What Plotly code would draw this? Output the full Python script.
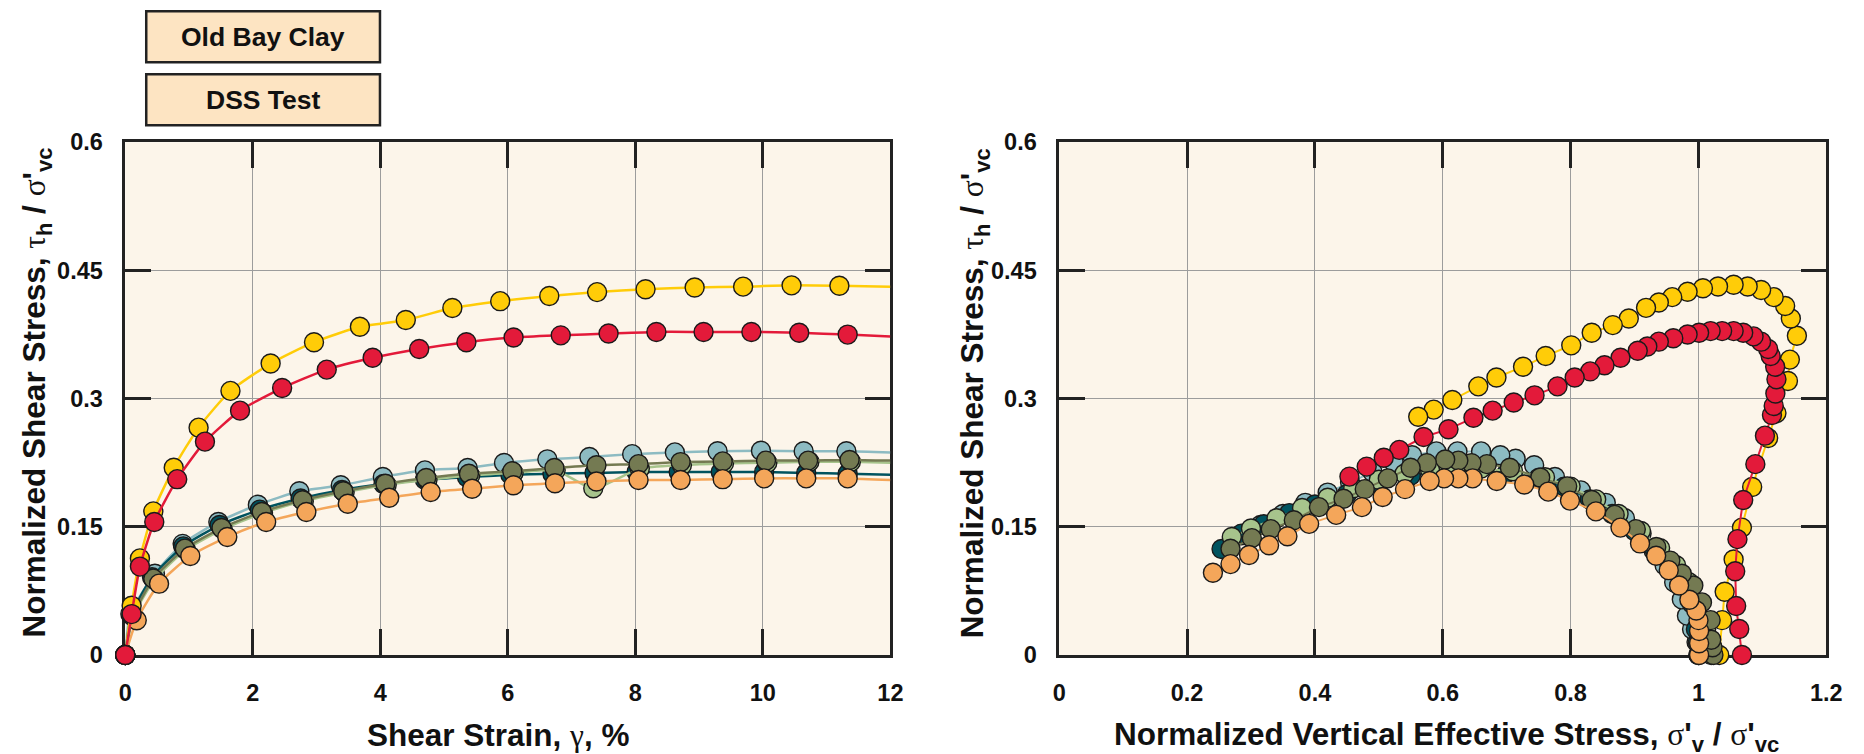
import plotly.graph_objects as go

# Target picture size
W, H = 1864, 754
# Figure size (slightly larger; calibrated mapping from figure pixels to the photographed picture)
FW, FH = 1880, 775
SX, AX = 0.9889, 3.6
SY, AY = 0.967, 10.7

def px(x):
    return ((x - AX) / SX) / FW

def py(y):
    return 1 - ((y - AY) / SY) / FH

# ---------------- Left panel: stress-strain (strain %, tau/sigma'vc) ----------------
yellow_strain = [0, 0.10, 0.23, 0.44, 0.76, 1.15, 1.65, 2.28, 2.96, 3.68, 4.40, 5.13, 5.88, 6.65, 7.40, 8.16, 8.93, 9.69, 10.45, 11.20]
yellow_stress = [0, 0.0575, 0.113, 0.168, 0.219, 0.266, 0.309, 0.341, 0.366, 0.384, 0.392, 0.406, 0.414, 0.420, 0.4246, 0.428, 0.430, 0.431, 0.4325, 0.432]
yellow_end = (12.0, 0.431)

red_strain = [0, 0.10, 0.23, 0.455, 0.815, 1.25, 1.80, 2.46, 3.16, 3.88, 4.61, 5.35, 6.09, 6.83, 7.58, 8.33, 9.07, 9.82, 10.57, 11.33]
red_stress = [0, 0.0478, 0.1034, 0.1555, 0.2057, 0.2496, 0.2859, 0.3123, 0.3339, 0.3477, 0.3581, 0.366, 0.3715, 0.374, 0.3761, 0.378, 0.378, 0.378, 0.377, 0.3749]
red_end = (12.0, 0.3728)

lblue_strain = [0, 0.08, 0.465, 0.90, 1.46, 2.08, 2.73, 3.38, 4.04, 4.70, 5.37, 5.94, 6.62, 7.28, 7.95, 8.62, 9.29, 9.97, 10.64, 11.31]
lblue_stress = [0, 0.048, 0.095, 0.130, 0.1556, 0.1758, 0.1915, 0.1985, 0.2082, 0.216, 0.2187, 0.2246, 0.2289, 0.2316, 0.235, 0.237, 0.2383, 0.239, 0.2383, 0.2383]
lblue_end = (12.0, 0.237)

teal_strain = [0, 0.10, 0.42, 0.91, 1.48, 2.11, 2.75, 3.40, 4.05, 4.70, 5.36, 6.04, 6.70, 7.36, 8.02, 8.68, 9.34, 10.02, 10.68, 11.33]
teal_stress = [0, 0.047, 0.091, 0.127, 0.152, 0.170, 0.183, 0.193, 0.200, 0.205, 0.208, 0.211, 0.212, 0.213, 0.214, 0.214, 0.214, 0.214, 0.213, 0.212]
teal_end = (12.0, 0.211)

lgreen_strain = [0, 0.13, 0.46, 0.95, 1.53, 2.16, 2.80, 3.44, 4.10, 4.74, 5.41, 6.09, 6.75, 7.34, 8.07, 8.73, 9.39, 10.07, 10.73, 11.38]
lgreen_stress = [0, 0.046, 0.088, 0.123, 0.147, 0.166, 0.180, 0.190, 0.199, 0.205, 0.210, 0.213, 0.216, 0.195, 0.218, 0.222, 0.224, 0.225, 0.226, 0.226]
lgreen_end = (12.0, 0.225)

olive_strain = [0, 0.12, 0.44, 0.935, 1.51, 2.14, 2.78, 3.42, 4.08, 4.72, 5.39, 6.07, 6.73, 7.39, 8.05, 8.71, 9.37, 10.05, 10.71, 11.36]
olive_stress = [0, 0.045, 0.0893, 0.1244, 0.1485, 0.1673, 0.181, 0.1915, 0.2004, 0.207, 0.212, 0.2149, 0.2187, 0.2219, 0.2233, 0.2257, 0.2265, 0.2274, 0.2274, 0.2282]
olive_end = (12.0, 0.2274)

orange_strain = [0, 0.18, 0.53, 1.02, 1.60, 2.21, 2.84, 3.49, 4.14, 4.79, 5.44, 6.09, 6.74, 7.39, 8.05, 8.71, 9.37, 10.02, 10.68, 11.33]
orange_stress = [0, 0.0406, 0.0834, 0.1158, 0.138, 0.1556, 0.1673, 0.177, 0.184, 0.1906, 0.1945, 0.1985, 0.201, 0.203, 0.2048, 0.2048, 0.2057, 0.2066, 0.2066, 0.2066]
orange_end = (12.0, 0.2048)

# ---------------- Right panel: stress paths (sigma'v/sigma'vc, tau/sigma'vc) ----------------
yellow_sv = [1.0325, 1.037, 1.041, 1.055, 1.068, 1.084, 1.109, 1.122, 1.140, 1.143, 1.154, 1.1445, 1.1356, 1.1177, 1.098, 1.077, 1.055, 1.0306, 1.007, 0.983, 0.959, 0.938, 0.918, 0.891, 0.866, 0.833, 0.801, 0.761, 0.7256, 0.684, 0.6556, 0.615, 0.5858, 0.5616]
yellow_tau = [0, 0.0407, 0.074, 0.1117, 0.149, 0.1965, 0.2538, 0.283, 0.3206, 0.3456, 0.3736, 0.3937, 0.4083, 0.4187, 0.427, 0.4312, 0.4333, 0.4312, 0.4292, 0.425, 0.4187, 0.4124, 0.4062, 0.3937, 0.386, 0.377, 0.3623, 0.3498, 0.3373, 0.3247, 0.3143, 0.2984, 0.2871, 0.2788]

red_sv = [1.068, 1.0638, 1.059, 1.0575, 1.061, 1.070, 1.089, 1.104, 1.115, 1.1177, 1.1203, 1.122, 1.120, 1.113, 1.109, 1.098, 1.0862, 1.070, 1.055, 1.037, 1.019, 1.001, 0.983, 0.9606, 0.938, 0.920, 0.905, 0.878, 0.853, 0.8306, 0.8064, 0.7795, 0.7436, 0.711, 0.678, 0.648, 0.609, 0.570, 0.532, 0.5077, 0.481, 0.454]
red_tau = [0, 0.0303, 0.0573, 0.098, 0.1355, 0.1814, 0.2233, 0.2566, 0.2808, 0.2913, 0.3059, 0.3227, 0.3373, 0.3498, 0.358, 0.3666, 0.3728, 0.377, 0.379, 0.379, 0.379, 0.377, 0.375, 0.3706, 0.3666, 0.361, 0.356, 0.3477, 0.339, 0.3318, 0.3247, 0.3143, 0.3038, 0.2954, 0.2859, 0.2775, 0.2642, 0.255, 0.240, 0.2307, 0.2204, 0.2087]

lblue_sv = [1.0, 0.997, 0.99, 0.982, 0.974, 0.962, 0.947, 0.93, 0.911, 0.885, 0.855, 0.816, 0.7755, 0.743, 0.714, 0.69, 0.66, 0.623, 0.59, 0.552, 0.523, 0.49, 0.455, 0.42, 0.385, 0.35, 0.315, 0.285]
lblue_tau = [0, 0.015, 0.03, 0.046, 0.065, 0.085, 0.105, 0.122, 0.142, 0.160, 0.178, 0.1926, 0.2082, 0.222, 0.2296, 0.2336, 0.2382, 0.2382, 0.2382, 0.2336, 0.2257, 0.214, 0.202, 0.19, 0.178, 0.165, 0.152, 0.140]

teal_sv = [1.0, 0.999, 0.996, 0.99, 0.975, 0.955, 0.93, 0.90, 0.865, 0.83, 0.79, 0.75, 0.70, 0.65, 0.60, 0.55, 0.50, 0.45, 0.40, 0.36, 0.32, 0.285, 0.254]
teal_tau = [0, 0.015, 0.03, 0.06, 0.085, 0.105, 0.125, 0.145, 0.165, 0.182, 0.197, 0.207, 0.213, 0.216, 0.215, 0.21, 0.20, 0.188, 0.176, 0.166, 0.153, 0.142, 0.124]

lgreen_sv = [1.02, 1.018, 1.012, 1.0, 0.985, 0.965, 0.94, 0.91, 0.875, 0.84, 0.80, 0.76, 0.71, 0.66, 0.62, 0.58, 0.54, 0.50, 0.46, 0.42, 0.38, 0.34, 0.30, 0.27]
lgreen_tau = [0, 0.015, 0.03, 0.06, 0.085, 0.105, 0.125, 0.145, 0.165, 0.182, 0.197, 0.208, 0.215, 0.218, 0.219, 0.217, 0.212, 0.205, 0.195, 0.184, 0.172, 0.160, 0.148, 0.138]

olive_sv = [1.0234, 1.022, 1.020, 1.019, 1.0055, 0.992, 0.974, 0.956, 0.934, 0.902, 0.869, 0.833, 0.7947, 0.7525, 0.705, 0.669, 0.645, 0.6244, 0.6038, 0.575, 0.5498, 0.514, 0.478, 0.4448, 0.4064, 0.367, 0.331, 0.3014, 0.268]
olive_tau = [0, 0.009, 0.0177, 0.0407, 0.0615, 0.0812, 0.095, 0.1104, 0.1263, 0.1472, 0.1639, 0.1814, 0.1973, 0.2077, 0.219, 0.2233, 0.2245, 0.2274, 0.2287, 0.2245, 0.219, 0.2066, 0.194, 0.1827, 0.173, 0.1577, 0.1472, 0.1367, 0.1242]

orange_sv = [1.001, 1.001, 1.001, 1.000, 0.9966, 0.9858, 0.9697, 0.9535, 0.9338, 0.9086, 0.878, 0.8396, 0.799, 0.765, 0.7275, 0.6844, 0.6467, 0.6244, 0.602, 0.5795, 0.541, 0.506, 0.4736, 0.4333, 0.391, 0.357, 0.3283, 0.297, 0.268, 0.2405]
orange_tau = [0, 0.0136, 0.028, 0.0407, 0.052, 0.0645, 0.0812, 0.0992, 0.116, 0.1305, 0.149, 0.168, 0.1806, 0.1911, 0.1994, 0.2036, 0.2066, 0.2066, 0.2066, 0.2036, 0.194, 0.1848, 0.173, 0.1639, 0.1534, 0.1389, 0.1284, 0.117, 0.1063, 0.0962]

# tick labels
y_ticks = [0, 0.15, 0.3, 0.45, 0.6]
y_ticktext = ["0", "0.15", "0.3", "0.45", "0.6"]
x1_ticks = [0, 2, 4, 6, 8, 10, 12]
x1_ticktext = ["0", "2", "4", "6", "8", "10", "12"]
x2_ticks = [0, 0.2, 0.4, 0.6, 0.8, 1.0, 1.2]
x2_ticktext = ["0", "0.2", "0.4", "0.6", "0.8", "1", "1.2"]

COL = {
    "yellow": "#FFCC08",
    "red": "#E31A3A",
    "lblue": "#8DBBC2",
    "teal": "#00535F",
    "lgreen": "#A7C48C",
    "olive": "#747A52",
    "orange": "#F4A65A",
}

left_series = [
    ("lblue", lblue_strain, lblue_stress, lblue_end),
    ("teal", teal_strain, teal_stress, teal_end),
    ("lgreen", lgreen_strain, lgreen_stress, lgreen_end),
    ("olive", olive_strain, olive_stress, olive_end),
    ("orange", orange_strain, orange_stress, orange_end),
    ("yellow", yellow_strain, yellow_stress, yellow_end),
    ("red", red_strain, red_stress, red_end),
]
right_series = [
    ("yellow", yellow_sv, yellow_tau),
    ("lblue", lblue_sv, lblue_tau),
    ("teal", teal_sv, teal_tau),
    ("lgreen", lgreen_sv, lgreen_tau),
    ("olive", olive_sv, olive_tau),
    ("orange", orange_sv, orange_tau),
    ("red", red_sv, red_tau),
]

MS = 19
fig = go.Figure()
for key, xs, ys, end in left_series:
    fig.add_trace(go.Scatter(x=xs + [end[0]], y=ys + [end[1]], mode="lines",
                             line=dict(color=COL[key], width=2.5, shape="spline", smoothing=0.6),
                             xaxis="x", yaxis="y", showlegend=False, hoverinfo="skip", cliponaxis=False))
    fig.add_trace(go.Scatter(x=xs, y=ys, mode="markers",
                             marker=dict(color=COL[key], size=MS, line=dict(color="#1a1a1a", width=1.4)),
                             xaxis="x", yaxis="y", showlegend=False, cliponaxis=False))
for key, xs, ys in right_series:
    fig.add_trace(go.Scatter(x=xs, y=ys, mode="lines+markers",
                             line=dict(color=COL[key], width=2),
                             marker=dict(color=COL[key], size=MS, line=dict(color="#1a1a1a", width=1.4)),
                             xaxis="x2", yaxis="y2", showlegend=False, cliponaxis=False))

FONT = "Liberation Sans, Arial, Helvetica, sans-serif"
tickfont = dict(family=FONT, size=23.5, color="#111", weight="bold")

def axis_common():
    return dict(showline=True, linecolor="#222", linewidth=2.5, mirror="ticks",
                ticks="inside", ticklen=26, tickwidth=2.5, tickcolor="#222",
                showgrid=True, gridcolor="#9c9c9c", gridwidth=1, zeroline=False,
                tickfont=tickfont, layer="below traces")

XD1 = [px(122), px(888)]
XD2 = [px(1057), px(1825)]
YD = [py(653), py(140)]

fig.update_layout(
    width=FW, height=FH, autosize=False,
    margin=dict(l=0, r=0, t=0, b=0),
    paper_bgcolor="white", plot_bgcolor="#FCF5EA",
    xaxis=dict(domain=XD1, range=[0, 12], tickvals=x1_ticks, ticktext=x1_ticktext,
               anchor="y", ticklabelstandoff=15, **axis_common()),
    yaxis=dict(domain=YD, range=[0, 0.6], tickvals=y_ticks, ticktext=y_ticktext,
               anchor="x", ticklabelstandoff=15, **axis_common()),
    xaxis2=dict(domain=XD2, range=[0, 1.2], tickvals=x2_ticks, ticktext=x2_ticktext,
                anchor="y2", ticklabelstandoff=15, **axis_common()),
    yaxis2=dict(domain=YD, range=[0, 0.6], tickvals=y_ticks, ticktext=y_ticktext,
                anchor="x2", ticklabelstandoff=15, **axis_common()),
)

GR = "<span style=\"font-family:'Liberation Serif','DejaVu Serif',serif;font-weight:normal\">%s</span>"
title_font = dict(family=FONT, size=31.5, color="#111", weight="bold")

xt1 = "Shear Strain, " + GR % "γ" + ", %"
xt2 = "Normalized Vertical Effective Stress, " + GR % "σ" + "'<sub>v</sub> / " + GR % "σ" + "'<sub>vc</sub>"
yt = "Normalized Shear Stress, " + GR % "τ" + "<sub>h</sub> / " + GR % "σ" + "'<sub>vc</sub>"

anns = [
    dict(text=xt1, x=px(496), y=py(733), xref="paper", yref="paper",
         xanchor="center", yanchor="middle", showarrow=False, font=title_font),
    dict(text=xt2, x=px(1445), y=py(735), xref="paper", yref="paper",
         xanchor="center", yanchor="middle", showarrow=False, font=title_font),
    dict(text=yt, x=px(33), y=py(390), xref="paper", yref="paper", textangle=-90,
         xanchor="center", yanchor="middle", showarrow=False, font=title_font),
    dict(text=yt, x=px(972), y=py(391), xref="paper", yref="paper", textangle=-90,
         xanchor="center", yanchor="middle", showarrow=False, font=title_font),
]

box_labels = ["Old Bay Clay", "DSS Test"]
box_tops = [9, 72]
box_h = 51
shapes = []
for lab, top in zip(box_labels, box_tops):
    shapes.append(dict(type="rect", xref="paper", yref="paper",
                       x0=px(143), x1=px(377), y0=py(top + box_h), y1=py(top),
                       fillcolor="#FDE4C2", line=dict(color="#222", width=2.5)))
    anns.append(dict(text=lab, x=px(260), y=py(top + box_h / 2), xref="paper", yref="paper",
                     xanchor="center", yanchor="middle", showarrow=False,
                     font=dict(family=FONT, size=26.5, color="#111", weight="bold")))

fig.update_layout(annotations=anns, shapes=shapes)
fig.write_html("out.html")
